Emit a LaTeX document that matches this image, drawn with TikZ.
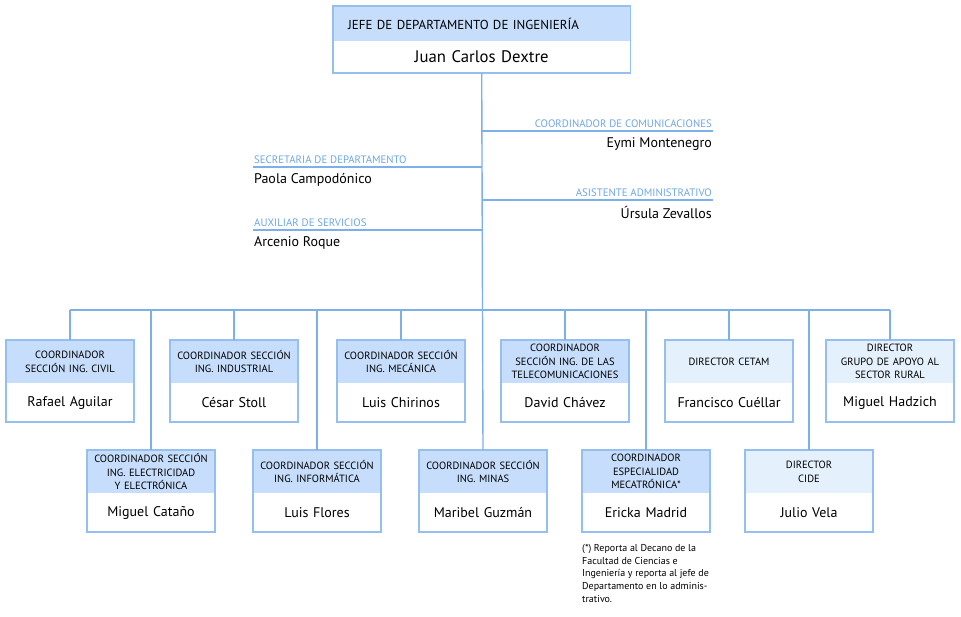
\documentclass[tikz,border=0pt]{standalone}
\usepackage{fontspec}
\setmainfont{PT Sans}
\usepackage{tikz}
\usetikzlibrary{positioning}
\definecolor{cabeza}{HTML}{C6DEFB}
\definecolor{cabezadir}{HTML}{E4F0FC}
\definecolor{borde}{HTML}{95BFEE}
\definecolor{linea}{HTML}{7DAFE8}
\definecolor{rotulo}{HTML}{6EA6E3}
\tikzstyle{cab} = [fill=cabeza, minimum width=128pt, minimum height=43pt, text width=124pt, inner xsep=2pt, inner ysep=0pt, align=center, font=\fontsize{10.5}{13.4}\selectfont]
\tikzstyle{cabdir} = [cab, fill=cabezadir]
\tikzstyle{nom} = [minimum width=128pt, minimum height=38pt, text width=124pt, inner xsep=2pt, inner ysep=0pt, align=center, font=\fontsize{14}{16}\selectfont]
\tikzstyle{marco} = [draw=borde, line width=1.7pt]
\tikzstyle{rama} = [draw=linea, line width=1.4pt]
\tikzstyle{stafft} = [text=rotulo, inner xsep=1pt, inner ysep=3pt, font=\fontsize{10.8}{12}\selectfont]
\tikzstyle{staffn} = [inner xsep=1pt, inner ysep=6pt, font=\fontsize{14}{16}\selectfont]

\begin{document}
\begin{tikzpicture}[x=1pt, y=-1pt]
        \useasboundingbox (0,0) rectangle (961,617);
        % jefe
        \node[cab, anchor=north west, minimum width=297pt, minimum height=35pt, text width=267pt, inner xsep=15pt, align=left, font=\fontsize{13}{14}\selectfont] (jefeh) at (333,6) {JEFE DE DEPARTAMENTO DE INGENIERÍA};
        \node[nom, below=0pt of jefeh, minimum width=297pt, minimum height=31pt, text width=281pt, font=\fontsize{16.7}{18}\selectfont] (jefe) {Juan Carlos Dextre};
        \draw[marco] (jefeh.north west) rectangle (jefe.south east);

        % staff
        \coordinate (comu) at (713,131);
        \coordinate (secre) at (253,167);
        \coordinate (asis) at (713,200);
        \coordinate (auxi) at (253,230);
        \node[stafft, anchor=south east] (comut) at (comu) {COORDINADOR DE COMUNICACIONES};
        \node[staffn, anchor=north east] (comun) at (comu) {Eymi Montenegro};
        \node[stafft, anchor=south west] (secret) at (secre) {SECRETARIA DE DEPARTAMENTO};
        \node[staffn, anchor=north west] (secren) at (secre) {Paola Campodónico};
        \node[stafft, anchor=south east] (asist) at (asis) {ASISTENTE ADMINISTRATIVO};
        \node[staffn, anchor=north east] (asisn) at (asis) {Úrsula Zevallos};
        \node[stafft, anchor=south west] (auxit) at (auxi) {AUXILIAR DE SERVICIOS};
        \node[staffn, anchor=north west] (auxin) at (auxi) {Arcenio Roque};

        % fila de arriba
        \node[cab, anchor=north] (civilh) at (70,340) {COORDINADOR\\SECCIÓN ING. CIVIL};
        \node[nom, below=0pt of civilh] (civil) {Rafael Aguilar};
        \node[cab, anchor=north] (indush) at (234,340) {COORDINADOR SECCIÓN\\ING. INDUSTRIAL};
        \node[nom, below=0pt of indush] (indus) {César Stoll};
        \node[cab, anchor=north] (mecah) at (401,340) {COORDINADOR SECCIÓN\\ING. MECÁNICA};
        \node[nom, below=0pt of mecah] (meca) {Luis Chirinos};
        \node[cab, anchor=north] (teleh) at (565,340) {COORDINADOR\\SECCIÓN ING. DE LAS\\TELECOMUNICACIONES};
        \node[nom, below=0pt of teleh] (tele) {David Chávez};
        \node[cabdir, anchor=north] (cetamh) at (729,340) {DIRECTOR CETAM};
        \node[nom, below=0pt of cetamh] (cetam) {Francisco Cuéllar};
        \node[cabdir, anchor=north] (ruralh) at (890,340) {DIRECTOR\\GRUPO DE APOYO AL\\SECTOR RURAL};
        \node[nom, below=0pt of ruralh] (rural) {Miguel Hadzich};

        % fila de abajo
        \node[cab, anchor=north] (electh) at (151,450) {COORDINADOR SECCIÓN\\ING. ELECTRICIDAD\\Y ELECTRÓNICA};
        \node[nom, below=0pt of electh] (elect) {Miguel Cataño};
        \node[cab, anchor=north] (infoh) at (317,450) {COORDINADOR SECCIÓN\\ING. INFORMÁTICA};
        \node[nom, below=0pt of infoh] (info) {Luis Flores};
        \node[cab, anchor=north] (minash) at (483,450) {COORDINADOR SECCIÓN\\ING. MINAS};
        \node[nom, below=0pt of minash] (minas) {Maribel Guzmán};
        \node[cab, anchor=north] (mecatrh) at (646,450) {COORDINADOR\\ESPECIALIDAD\\MECATRÓNICA*};
        \node[nom, below=0pt of mecatrh] (mecatr) {Ericka Madrid};
        \node[cabdir, anchor=north] (cideh) at (809,450) {DIRECTOR\\CIDE};
        \node[nom, below=0pt of cideh] (cide) {Julio Vela};

        \foreach \c in {civil,indus,meca,tele,cetam,rural,elect,info,minas,mecatr,cide}
            \draw[marco] (\c h.north west) rectangle (\c.south east);

        % nota
        \node[anchor=north west, inner sep=0pt, align=left, font=\fontsize{10}{12.8}\selectfont] (nota) at (582,544) {(*) Reporta al Decano de la\\Facultad de Ciencias e\\Ingeniería y reporta al jefe de\\Departamento en lo adminis-\\trativo.};

        % lineas
        \coordinate (busw) at (70,310);
        \coordinate (buse) at (890,310);
        \draw[rama] (jefe.south) -- (minash.north);
        \draw[rama] (busw) -- (buse);
        \draw[rama] (comu) -- (comu -| jefe.south);
        \draw[rama] (asis) -- (asis -| jefe.south);
        \draw[rama] (secre) -- (secre -| jefe.south);
        \draw[rama] (auxi) -- (auxi -| jefe.south);
        \foreach \c in {civil,indus,meca,tele,cetam,rural,elect,info,mecatr,cide}
            \draw[rama] (\c h.north) -- (\c h.north |- busw);
      \end{tikzpicture}
\end{document}
